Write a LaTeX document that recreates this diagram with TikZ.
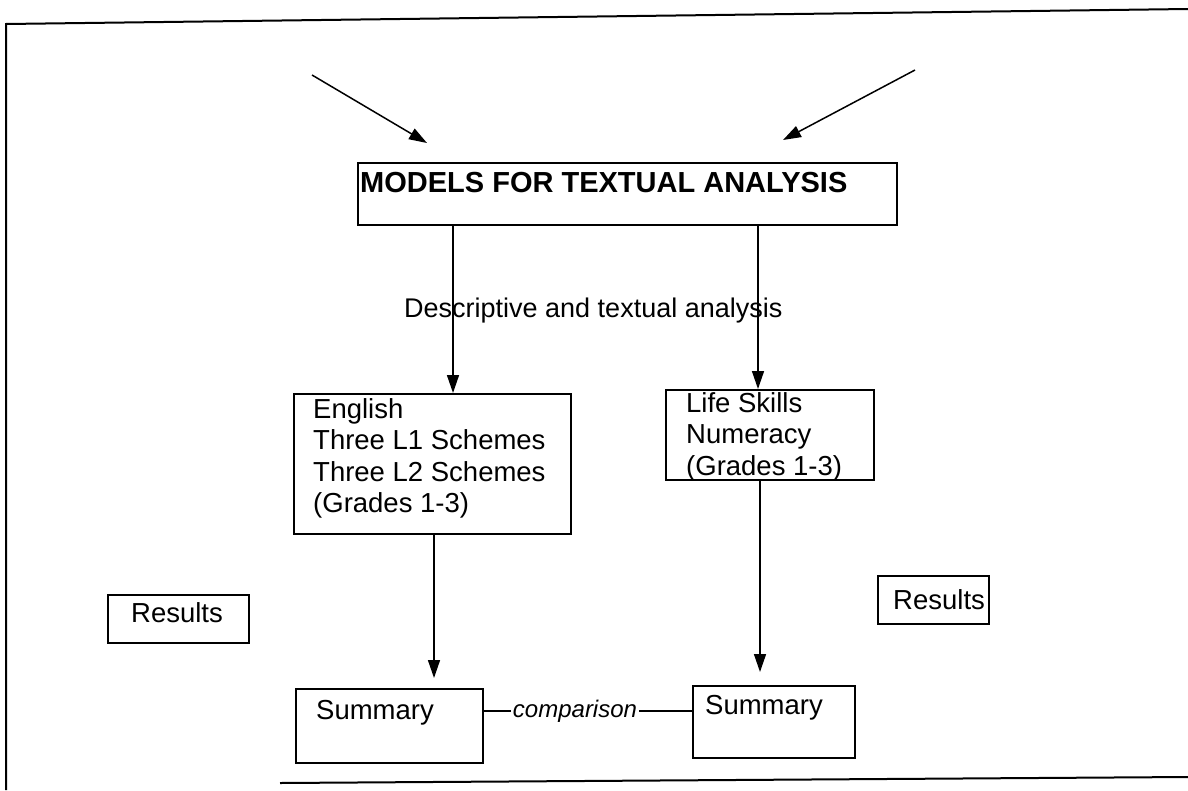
\documentclass[tikz,border=0pt]{standalone}
\usepackage{fontspec}
\setmainfont{Liberation Sans}
\usetikzlibrary{arrows.meta}
\begin{document}
\begin{tikzpicture}[x=1pt,y=-1pt,
  box/.style={draw, line width=1.6pt, inner sep=0pt, anchor=north west},
  txt/.style={anchor=base west, inner sep=0pt, align=left,
    font=\fontsize{27.5}{31.5}\selectfont},
  arr/.style={line width=1.5pt, -{Triangle[length=18pt,width=12pt]}},
  framerule/.style={line width=2pt}]
\useasboundingbox (0,0) rectangle (1188,790);

% outer frame (open on the right)
\draw[framerule] (1188,9) -- (6,24) -- (6,790);
\draw[framerule] (280,783) -- (1188,777);

% boxes
\node[box, minimum width=539pt, minimum height=62pt] (title) at (357,162) {};
\node[box, minimum width=277pt, minimum height=140pt] (eng) at (293,393) {};
\node[box, minimum width=208pt, minimum height=90pt] (life) at (665,389) {};
\node[box, minimum width=141pt, minimum height=48pt] (resL) at (107,594) {};
\node[box, minimum width=111pt, minimum height=48pt] (resR) at (877,575) {};
\node[box, minimum width=187pt, minimum height=74pt] (sumL) at (295,688) {};
\node[box, minimum width=162pt, minimum height=72pt] (sumR) at (692,685) {};

% texts (multi-line nodes are placed by the baseline of their last line)
\node[txt, font=\fontsize{29}{32}\selectfont\bfseries] (titletxt) at (360,192)
  {MODELS FOR TEXTUAL ANALYSIS};
\node[txt] (engtxt) at (313,512.5)
  {English\\Three L1 Schemes\\Three L2 Schemes\\(Grades 1-3)};
\node[txt] (lifetxt) at (686,475) {Life Skills\\Numeracy\\(Grades 1-3)};
\node[txt] (resLtxt) at (131,622) {Results};
\node[txt] (resRtxt) at (893,609) {Results};
\node[txt] (sumLtxt) at (316,719) {Summary};
\node[txt] (sumRtxt) at (705,714) {Summary};
\node[txt, font=\fontsize{27}{31}\selectfont] (desc) at (404,317)
  {Descriptive and textual analysis};
\node[anchor=base, inner sep=2pt, font=\fontsize{24}{28}\selectfont\itshape]
  (cmp) at (575,717) {comparison};

% incoming arrows above the title
\coordinate (inLa) at (312,75);
\coordinate (inLb) at (427,143);
\coordinate (inRa) at (915,70);
\coordinate (inRb) at (783,140);
\draw[arr] (inLa) -- (inLb);
\draw[arr] (inRa) -- (inRb);

% vertical flow
\coordinate (xa) at (453,0);
\coordinate (xb) at (758,0);
\coordinate (xc) at (434,0);
\coordinate (xd) at (760,0);
\draw[arr] (xa |- title.south) -- (xa |- eng.north);
\draw[arr] (xb |- title.south) -- (xb |- life.north);
\draw[arr, shorten >=10pt] (xc |- eng.south) -- (xc |- sumL.north);
\draw[arr, shorten >=13pt] (xd |- life.south) -- (xd |- sumR.north);

% comparison link
\coordinate (ycmp) at (0,711);
\draw[line width=1.2pt] (sumL.east |- ycmp) -- (cmp.west |- ycmp);
\draw[line width=2pt] (cmp.east |- ycmp) -- (sumR.west |- ycmp);
\end{tikzpicture}
\end{document}
